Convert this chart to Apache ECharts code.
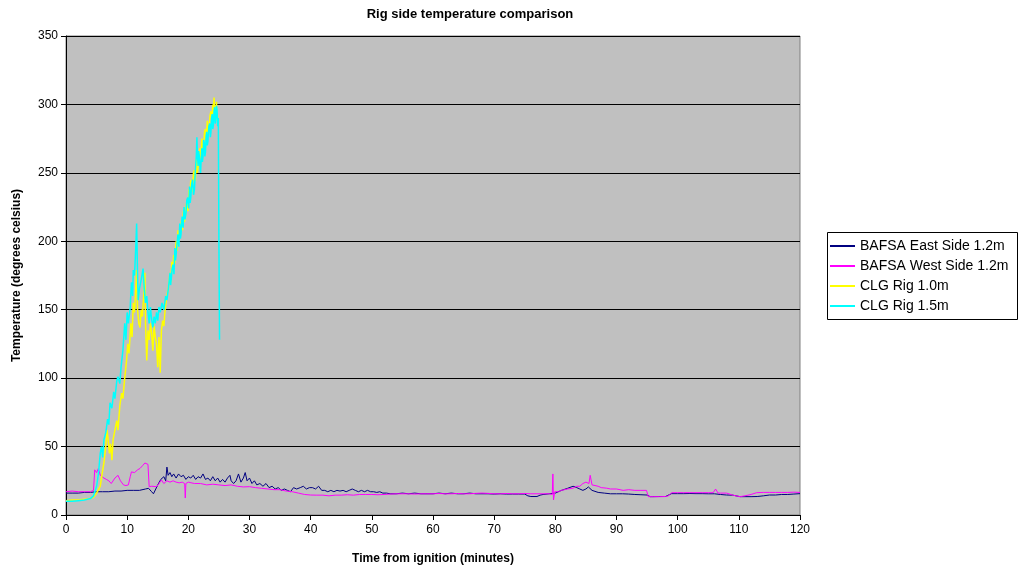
<!DOCTYPE html>
<html>
<head>
<meta charset="utf-8">
<script src="https://cdn.jsdelivr.net/npm/echarts@6/dist/echarts.min.js"></script>
<style>html,body{margin:0;padding:0;background:#fff}#c{width:1024px;height:572px}</style>
</head>
<body>
<div id="c"></div>
<script>
const seriesNames = ['BAFSA East Side 1.2m', 'BAFSA West Side 1.2m', 'CLG Rig 1.0m', 'CLG Rig 1.5m'];
const xTicks = [0, 10, 20, 30, 40, 50, 60, 70, 80, 90, 100, 110, 120];
const yTicks = [0, 50, 100, 150, 200, 250, 300, 350];

const eastSide = [[0,16],[1,16],[2,16],[3,16.5],[4,16.5],[5,17],[6,17],[7,17],[8,17.5],[9,17.5],[10,18],[11,18],[12,18],[13,19],[13.5,19.5],[14.0,17],[14.3,15.5],[14.6,16],[15.0,22],[15.5,26],[16.0,28],[16.3,25],[16.5,35],[16.7,29],[17.0,31],[17.3,28],[17.6,30],[18.0,27],[18.4,30],[18.8,28],[19.2,29],[19.6,26],[20.0,28],[20.4,27],[20.8,29],[21.2,26],[21.6,28],[22.0,27],[22.4,30],[22.8,26],[23.2,27],[23.6,25],[24.0,28],[24.4,25],[24.8,27],[25.2,24],[25.6,26],[26.0,24],[26.4,27],[26.8,29],[27.0,25],[27.4,23],[27.8,25],[28.2,30],[28.6,24],[29.0,27],[29.3,31],[29.6,25],[30.0,27],[30.4,23],[30.8,25],[31.2,22],[31.7,23],[32.2,21],[32.7,23],[33.2,20],[33.7,21],[34.2,19],[34.7,20],[35.2,18],[35.7,19],[36.2,18],[36.7,17],[37.2,20],[37.7,19],[38.3,20],[38.8,21],[39.3,19],[39.8,20],[40.3,20],[40.8,19],[41.3,21],[41.8,18],[42.3,18],[42.8,17],[43.3,18],[43.8,17],[44.3,18],[44.8,17.5],[45.3,18],[45.8,17],[46.3,18],[46.8,19],[47.3,18],[47.8,17],[48.3,18],[48.8,17],[49.3,18],[49.8,17],[50.3,17],[50.8,16.5],[51.3,17],[51.8,16],[52.4,16],[53,15.5],[54,15.5],[55,16],[56,15.5],[57,16],[58,15.5],[59,15.5],[60,15.5],[61,16],[62,15.5],[63,16],[64,15.5],[65,15.5],[66,16],[67,15.5],[68,15.5],[69,15.5],[70,15.3],[71,15.5],[72,15.3],[73,15.3],[74,15.3],[75,15.3],[75.5,14],[76,13.5],[77,13.5],[77.5,14.5],[78,15],[79,15.5],[80,16],[81,18],[82,19.5],[82.9,21],[83.5,20],[84,19],[84.5,18],[85,19],[85.4,20.5],[86,18],[87,16.5],[88,16],[89,15.5],[90,15.5],[91,15.5],[92,15.3],[93,15],[94,14.8],[95,14.6],[95.5,13.4],[96,13.4],[97,13.5],[98,13.5],[99,15.6],[100,15.6],[101,15.6],[102,15.7],[103,15.6],[104,15.6],[105,15.5],[106,15.5],[107,15],[108,14.6],[109,14.5],[110.2,13.4],[111,13.4],[112,13.4],[113,13.5],[114,14],[115,14.6],[116,14.6],[117,15],[118,15],[119,15.3],[120,15.6]];

const westSide = [[0,17],[1,17.5],[2,17],[3,17],[4,17],[4.5,18],[4.7,33],[5.0,31],[5.3,34],[5.6,29],[5.8,28],[6.2,27],[6.6,26],[7.0,25],[7.4,23],[7.7,24],[8.0,27],[8.5,29],[8.9,25],[9.4,22],[9.8,21.5],[10.2,22],[10.5,28],[10.7,31.5],[11.2,31],[11.7,33],[12.1,34],[12.5,36],[12.9,38],[13.2,37],[13.4,37],[13.6,20.7],[14.0,21],[14.8,20.7],[15.2,23],[15.6,25.6],[16.0,23],[16.5,25],[17,24],[17.5,25],[18,24],[18.5,23.5],[19,24],[19.4,23],[19.5,12.4],[19.6,23],[20,24],[21,23],[22,23],[23,22],[24,22.5],[25,22],[26,21.5],[27,22],[28,21],[29,20.5],[30,20.7],[31,20],[32,19.5],[33,19],[34,18.5],[35,18.5],[36,17.5],[37,17],[38,16],[39,15],[40,14.6],[41,14.5],[42,14.5],[43,14],[44,14.5],[45,14.5],[46,14.8],[47,14.5],[48,15],[49,15],[50,15],[51,14.8],[52,15],[53,15.3],[54,15.5],[55,15.5],[56,15.5],[57,15.3],[58,15.5],[59,15.5],[60,15.5],[61,15.7],[62,15.5],[63,15.5],[64,15.7],[65,15.5],[66,15.5],[67,15.8],[68,16],[69,15.8],[70,15.5],[71,15.5],[72,15.7],[73,15.5],[74,15.5],[75,15.7],[76,15.5],[77,15.5],[78,15.5],[79,15.5],[79.5,15],[79.6,30],[79.7,11],[79.9,17],[80.5,17],[81,18],[82,19],[82.9,19.6],[83.5,21],[84,21],[84.5,23],[85,24],[85.5,23],[85.7,29],[86,22],[86.3,22.4],[87,21],[87.5,20],[88.4,19.6],[89,19],[90,19],[91.1,18],[92,18.5],[93,18],[94,18],[94.9,18],[95.2,13.4],[96,13.4],[97,13.4],[98,13.5],[98.5,14],[99,16.3],[100,16.3],[101,16.3],[102,16.3],[103,16.3],[104,16.3],[105,16.3],[105.8,16.3],[106.2,19],[106.6,16],[107,16],[108,16],[109,14.5],[110.2,13.4],[111,14],[112,15],[112.9,16.3],[114,16.5],[115,16.5],[116,16.5],[117,16.5],[118,16.5],[119,16.7],[120,16.5]];

const clgRig10 = [[0,10.5],[1,11],[2,11],[3,11.5],[4,12],[4.5,13],[5.0,16],[5.6,21],[5.9,30],[6.2,38],[6.5,50],[6.7,62],[6.9,55],[7.1,45],[7.3,52],[7.5,40],[7.7,55],[8.0,62],[8.3,69],[8.5,62],[8.8,80],[9.1,89],[9.3,85],[9.6,100],[9.9,113],[10.1,125],[10.3,118],[10.6,140],[10.8,130],[11.0,155],[11.2,148],[11.4,165],[11.55,179],[11.7,150],[11.9,140],[12.1,137],[12.3,150],[12.5,145],[12.7,160],[12.9,177],[13.0,140],[13.2,113],[13.4,135],[13.6,128],[13.8,140],[14.0,133],[14.2,120],[14.4,138],[14.6,130],[14.8,125],[15.0,108],[15.2,130],[15.4,104],[15.6,135],[15.8,142],[16.0,138],[16.2,150],[16.5,160],[16.8,168],[17.0,177],[17.15,170],[17.3,185],[17.45,178],[17.6,190],[17.8,184],[18.0,200],[18.15,193],[18.3,208],[18.45,200],[18.6,205],[18.75,212],[18.9,215],[19.05,208],[19.2,222],[19.35,214],[19.5,218],[19.65,226],[19.8,230],[19.95,222],[20.1,238],[20.25,231],[20.4,245],[20.55,236],[20.7,240],[20.85,250],[21.0,252],[21.15,244],[21.3,260],[21.45,250],[21.6,255],[21.75,264],[21.9,268],[22.05,260],[22.2,275],[22.35,265],[22.5,270],[22.65,280],[22.8,282],[22.95,274],[23.1,288],[23.25,279],[23.4,283],[23.55,292],[23.7,295],[23.85,288],[24.0,300],[24.1,294],[24.2,305],[24.3,296],[24.4,298],[24.5,290],[24.6,302],[24.7,288],[24.8,292]];

const clgRig15 = [[0,10],[1,10],[2,10.5],[3,11],[4,12],[4.5,14],[5.0,21],[5.3,30],[5.6,45],[5.8,50],[6.0,42],[6.2,55],[6.5,60],[6.8,70],[7.0,66],[7.2,82],[7.5,78],[7.8,90],[8.0,85],[8.3,98],[8.5,101],[8.8,96],[9.0,108],[9.3,120],[9.6,140],[9.8,128],[10.0,148],[10.2,140],[10.5,152],[10.7,170],[10.9,160],[11.0,179],[11.2,175],[11.4,195],[11.55,213],[11.7,175],[11.8,157],[12.0,165],[12.3,172],[12.6,180],[12.8,165],[13.0,155],[13.2,160],[13.4,148],[13.6,140],[13.8,152],[14.0,143],[14.2,137],[14.4,145],[14.6,140],[14.8,148],[15.0,142],[15.2,152],[15.4,148],[15.7,155],[16.0,150],[16.3,160],[16.5,157],[16.8,168],[17.0,177],[17.1,168],[17.2,172],[17.35,180],[17.5,183],[17.65,176],[17.8,195],[17.9,186],[18.0,190],[18.15,198],[18.3,205],[18.45,196],[18.6,213],[18.7,202],[18.8,205],[18.9,214],[19.0,218],[19.15,210],[19.3,225],[19.45,216],[19.6,220],[19.75,230],[19.9,232],[20.05,224],[20.2,240],[20.3,228],[20.4,232],[20.55,242],[20.7,245],[20.85,234],[21.0,238],[21.1,248],[21.2,255],[21.3,262],[21.4,276],[21.5,262],[21.6,255],[21.7,266],[21.8,262],[21.9,254],[22.0,250],[22.1,260],[22.2,268],[22.3,258],[22.4,262],[22.5,274],[22.6,272],[22.7,262],[22.8,265],[22.9,276],[23.0,280],[23.1,270],[23.2,273],[23.35,284],[23.5,286],[23.6,276],[23.7,280],[23.8,290],[23.9,293],[24.0,282],[24.1,285],[24.2,295],[24.3,298],[24.4,286],[24.5,290],[24.6,299],[24.7,296],[24.8,284],[24.9,290],[25.0,200],[25.1,128]];

const colors = ['#000080', '#FF00FF', '#FFFF00', '#00FFFF'];
const dataSets = [eastSide, westSide, clgRig10, clgRig15];

const chart = echarts.init(document.getElementById('c'), null, {renderer: 'canvas'});
const font = 'Arial, "Liberation Sans", sans-serif';
chart.setOption({
  animation: false,
  backgroundColor: '#ffffff',
  title: {
    text: 'Rig side temperature comparison',
    left: 465, top: 3, textAlign: 'center',
    textStyle: {fontFamily: font, fontSize: 13, fontWeight: 'bold', color: '#000'}
  },
  grid: {left: 66, right: 224, top: 36, bottom: 57, show: true,
    backgroundColor: '#C0C0C0', borderColor: '#808080', borderWidth: 1},
  legend: {
    orient: 'vertical', left: 830, top: 239, itemGap: 6, padding: 0,
    itemWidth: 25, itemHeight: 2, icon: 'rect',
    data: seriesNames,
    textStyle: {fontFamily: font, fontSize: 14, color: '#000'}
  },
  graphic: [{type: 'rect', left: 825, top: 230, shape: {width: 190, height: 87},
    style: {fill: 'none', stroke: '#000', lineWidth: 1}, z: 100}],
  xAxis: {
    type: 'value', min: xTicks[0], max: xTicks[xTicks.length - 1], interval: 10,
    name: 'Time from ignition (minutes)', nameLocation: 'middle', nameGap: 38,
    nameTextStyle: {fontFamily: font, fontSize: 12, fontWeight: 'bold', color: '#000'},
    axisLine: {lineStyle: {color: '#000', width: 1}},
    axisTick: {show: true, length: 5, lineStyle: {color: '#000'}},
    axisLabel: {fontFamily: font, fontSize: 12, color: '#000', margin: 9},
    splitLine: {show: false}
  },
  yAxis: {
    type: 'value', min: yTicks[0], max: yTicks[yTicks.length - 1], interval: 50,
    name: 'Temperature (degrees celsius)', nameLocation: 'middle', nameGap: 43,
    nameTextStyle: {fontFamily: font, fontSize: 12, fontWeight: 'bold', color: '#000'},
    axisLine: {show: true, lineStyle: {color: '#000', width: 1}},
    axisTick: {show: true, length: 5, lineStyle: {color: '#000'}},
    axisLabel: {fontFamily: font, fontSize: 12, color: '#000', margin: 8},
    splitLine: {show: true, lineStyle: {color: '#000', width: 1}}
  },
  series: seriesNames.map((n, i) => ({
    name: n, type: 'line', data: dataSets[i], showSymbol: false, symbol: 'none',
    lineStyle: {color: colors[i], width: i >= 2 ? 1.5 : 1}, itemStyle: {color: colors[i]},
    z: 2 + i
  }))
});
</script>
</body>
</html>
